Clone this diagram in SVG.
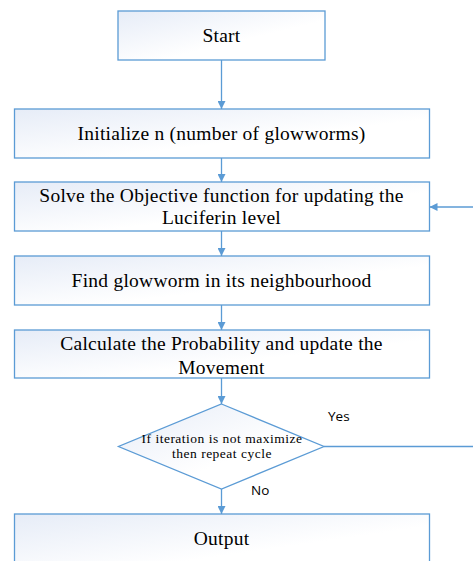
<svg xmlns="http://www.w3.org/2000/svg" width="473" height="561" viewBox="0 0 473 561">
<defs>
<linearGradient id="g" x1="0" y1="0" x2="1" y2="1">
<stop offset="0" stop-color="#e6ecf7"/>
<stop offset="0.6" stop-color="#ffffff"/>
</linearGradient>
<marker id="ah" markerWidth="8" markerHeight="8" refX="8" refY="4" orient="auto" markerUnits="userSpaceOnUse">
<path d="M0,0 L8,4 L0,8 Z" fill="#5b9bd5"/>
</marker>
<style>
.box{fill:url(#g);stroke:#5b9bd5;stroke-width:1.3}
.t{font-family:"Liberation Serif","Times New Roman",serif;font-size:19.5px;fill:#000;text-anchor:middle;letter-spacing:0.25px}
.ts{font-family:"Liberation Serif","Times New Roman",serif;font-size:13.5px;fill:#000;text-anchor:middle;letter-spacing:0.5px}
.l{font-family:"Open Sans",sans-serif;font-size:13.5px;fill:#000}
.c{stroke:#5b9bd5;stroke-width:1.3;fill:none}
</style>
</defs>
<rect width="473" height="561" fill="#fff"/>
<g id="connectors">
<line class="c" x1="221.5" y1="60" x2="221.5" y2="109" marker-end="url(#ah)"/>
<line class="c" x1="221.5" y1="158" x2="221.5" y2="182" marker-end="url(#ah)"/>
<line class="c" x1="221.5" y1="231" x2="221.5" y2="256" marker-end="url(#ah)"/>
<line class="c" x1="221.5" y1="305" x2="221.5" y2="330" marker-end="url(#ah)"/>
<line class="c" x1="221.5" y1="378" x2="221.5" y2="404" marker-end="url(#ah)"/>
<line class="c" x1="221.5" y1="489" x2="221.5" y2="514" marker-end="url(#ah)"/>
<polyline class="c" points="324,446.5 480,446.5"/>
<line class="c" x1="480" y1="207" x2="429.5" y2="207" marker-end="url(#ah)"/>
<text class="l" x="328" y="421">Yes</text>
<text class="l" x="251" y="495">No</text>
</g>
<g id="start">
<rect class="box" x="118" y="11" width="207" height="49"/>
<text class="t" x="221.5" y="42">Start</text>
</g>
<g id="init">
<rect class="box" x="14.5" y="109" width="415" height="49"/>
<text class="t" x="221.5" y="140">Initialize n (number of glowworms)</text>
</g>
<g id="solve">
<rect class="box" x="14.5" y="182" width="415" height="49"/>
<text class="t" x="221.5" y="202">Solve the Objective function for updating the</text>
<text class="t" x="221.5" y="224">Luciferin level</text>
</g>
<g id="find">
<rect class="box" x="14.5" y="256" width="415" height="49"/>
<text class="t" x="221.5" y="287">Find glowworm in its neighbourhood</text>
</g>
<g id="calc">
<rect class="box" x="14.5" y="330" width="415" height="48"/>
<text class="t" x="221.5" y="350">Calculate the Probability and update the</text>
<text class="t" x="221.5" y="374">Movement</text>
</g>
<g id="decision">
<polygon class="box" points="221.5,404 324,446.5 221.5,489 118.5,446.5"/>
<text class="ts" x="222" y="443">If iteration is not maximize</text>
<text class="ts" x="222" y="458">then repeat cycle</text>
</g>
<g id="output">
<rect class="box" x="14.5" y="514" width="415" height="60"/>
<text class="t" x="221.5" y="545">Output</text>
</g>
</svg>
